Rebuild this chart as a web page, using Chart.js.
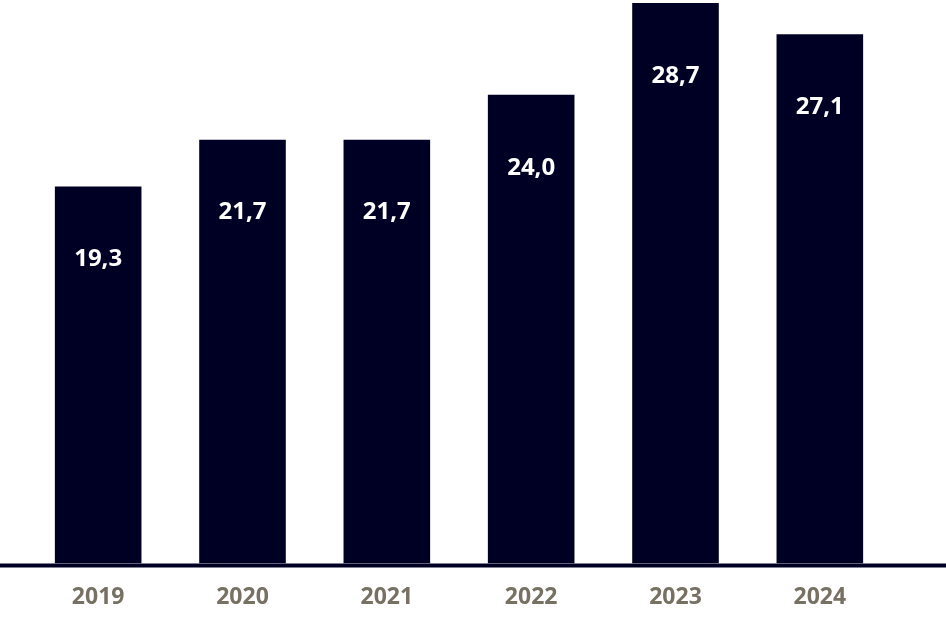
<!DOCTYPE html>
<html>
<head>
<meta charset="utf-8">
<script src="https://cdn.jsdelivr.net/npm/chart.js@4"></script>
<style>
    html, body { margin: 0; padding: 0; background: #ffffff; }
    #wrap { width: 946px; height: 630px; position: relative; }
</style>
</head>
<body>
<div id="wrap"><canvas id="barChart"></canvas></div>
<script>
const years = ['2019', '2020', '2021', '2022', '2023', '2024'];
const values = [19.3, 21.7, 21.7, 24.0, 28.7, 27.1];
const valueLabels = ['19,3', '21,7', '21,7', '24,0', '28,7', '27,1'];

const BAR_COLOR = '#000025';
const TICK_COLOR = '#777163';

// long dark baseline drawn across the whole canvas at value 0
const baselinePlugin = {
    id: 'baseline',
    afterDatasetsDraw(chart) {
        const ctx = chart.ctx;
        const y = chart.scales.y.getPixelForValue(0);
        ctx.save();
        ctx.strokeStyle = BAR_COLOR;
        ctx.lineWidth = 4;
        ctx.beginPath();
        ctx.moveTo(0, y + 2);
        ctx.lineTo(chart.width, y + 2);
        ctx.stroke();
        ctx.restore();
    }
};

// white value labels inside the bars, near the top
const valueLabelPlugin = {
    id: 'valueLabels',
    afterDatasetsDraw(chart) {
        const ctx = chart.ctx;
        const meta = chart.getDatasetMeta(0);
        ctx.save();
        ctx.fillStyle = '#ffffff';
        ctx.font = 'bold 24px "Open Sans"';
        ctx.textAlign = 'center';
        ctx.textBaseline = 'middle';
        meta.data.forEach((bar, i) => {
            ctx.fillText(valueLabels[i], bar.x, bar.y + 73);
        });
        ctx.restore();
    }
};

const ctx = document.getElementById('barChart').getContext('2d');
new Chart(ctx, {
    type: 'bar',
    data: {
        labels: years,
        datasets: [{
            data: values,
            backgroundColor: BAR_COLOR,
            borderWidth: 0,
            categoryPercentage: 1.0,
            barPercentage: 0.6
        }]
    },
    options: {
        responsive: true,
        maintainAspectRatio: false,
        animation: false,
        layout: { padding: { left: 26, right: 54, top: 0, bottom: 7 } },
        plugins: {
            legend: { display: false },
            tooltip: { enabled: false }
        },
        scales: {
            x: {
                grid: { display: false },
                border: { display: false },
                ticks: {
                    color: TICK_COLOR,
                    font: { family: 'Open Sans', weight: 'bold', size: 23 },
                    padding: 12
                }
            },
            y: {
                display: false,
                min: 0,
                max: 28.85
            }
        }
    },
    plugins: [baselinePlugin, valueLabelPlugin]
});
</script>
</body>
</html>
